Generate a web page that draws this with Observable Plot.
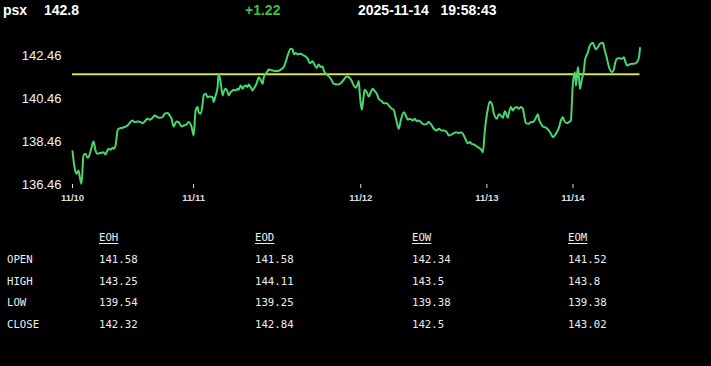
<!DOCTYPE html>
<html><head><meta charset="utf-8">
<script src="https://cdn.jsdelivr.net/npm/d3@7"></script>
<script src="https://cdn.jsdelivr.net/npm/@observablehq/plot@0.6"></script>
<style>
html,body{margin:0;padding:0;background:#000;width:711px;height:366px;overflow:hidden;}
body{position:relative;font-family:"Liberation Sans",Arial,sans-serif;color:#fff;}
.hd{position:absolute;top:3px;font-weight:bold;font-size:14px;line-height:14px;white-space:pre;color:#fff;}
#chart{position:absolute;left:0;top:30px;}
#tbl{position:absolute;left:0;top:227px;display:grid;grid-template-columns:99px 156px 157px 156px 143px;grid-auto-rows:21.75px;align-items:center;font-family:"DejaVu Sans Mono",monospace;font-size:10.7px;color:#eee;}
#tbl div{white-space:pre;line-height:21.75px;}
#tbl .rl{padding-left:7px;}
#tbl .ch{text-decoration:underline;text-underline-offset:2px;}
</style>
</head><body>
<div id="hdr"></div>
<div id="chart"></div>
<div id="tbl"></div>
<script>
const symbol = "psx";
const lastPrice = "142.8";
const change = "+1.22";
const dateStr = "2025-11-14";
const timeStr = "19:58:43";
const prevClose = 141.58;

// sample index (sequential intraday samples) and price
const sampleIdx = [0,2,4,6,7,9,11,13,15,16,19,21,23,25,28,31,33,35,36,38,40,41,43,45,46,50,52,55,57,60,62,66,68,70,73,75,77,80,82,85,87,90,92,95,97,99,101,104,106,109,111,114,116,119,121,
123,125,126,128,130,131,133,135,137,140,141,143,145,146,148,150,151,153,155,156,158,160,161,163,165,166,168,170,171,173,175,176,178,180,181,183,185,186,188,190,191,193,195,196,200,203,205,208,211,213,215,218,220,221,223,225,228,231,233,235,237,240,241,244,246,248,250,251,
255,258,261,265,268,271,274,276,279,281,283,285,286,287,289,291,292,294,296,298,300,301,304,306,309,311,314,316,319,321,322,324,326,328,331,333,335,337,340,342,344,346,349,351,354,356,359,361,364,366,369,371,374,376,379,
381,383,386,388,390,392,395,397,399,401,404,406,409,410,412,415,417,419,421,424,426,428,430,432,435,436,438,440,441,444,446,448,450,451,453,456,458,460,462,465,466,468,470,473,476,478,480,483,486,488,490,491,494,496,498,
499,500,502,503,505,506,507,509,511,512,515,517,520,521,523,525,527,530,531,534,536,539,541,542,544,546,549,551,552,554,556,559,561,564,566,567];
const prices = [138.01,137.27,136.96,137.11,136.88,136.49,137.81,137.89,137.70,137.73,138.17,138.46,138.04,137.89,137.92,137.96,137.86,138.05,138.12,138.07,138.17,138.12,138.27,138.97,139.05,139.10,139.13,139.20,139.31,139.44,139.36,139.39,139.36,139.31,139.44,139.52,139.47,139.56,139.67,139.59,139.56,139.59,139.75,139.78,139.67,139.52,139.16,139.39,139.36,139.16,139.20,139.25,139.36,139.13,138.74,
139.90,140.06,139.82,139.75,140.21,140.60,140.68,140.52,140.55,140.52,140.29,140.60,140.99,141.61,141.22,140.60,140.75,140.91,140.75,140.60,140.75,140.83,140.86,140.83,140.91,140.86,141.06,140.91,140.99,141.06,140.99,141.11,140.99,140.83,140.91,141.06,141.30,141.45,141.33,141.14,141.42,141.61,141.73,141.80,141.76,141.73,141.73,141.80,141.92,142.15,142.46,142.77,142.73,142.51,142.57,142.51,142.54,142.46,142.41,142.31,142.10,142.19,142.10,141.89,142.04,141.92,141.95,141.76,
141.53,141.38,141.14,141.11,141.17,141.33,141.48,141.45,141.27,141.06,140.96,141.14,141.27,140.68,139.93,140.60,140.86,140.75,140.55,140.75,140.91,140.86,140.68,140.45,140.33,140.24,140.24,140.13,139.98,139.93,139.75,139.36,139.05,139.44,139.82,139.67,139.47,139.52,139.44,139.52,139.40,139.44,139.31,139.25,139.28,139.36,139.20,139.05,138.97,139.05,138.97,138.97,138.89,138.74,138.79,
138.85,138.89,138.85,138.89,138.82,138.63,138.38,138.43,138.35,138.32,138.23,138.17,138.04,137.96,138.97,139.98,140.32,140.21,139.75,139.52,139.72,139.67,139.56,139.87,139.56,139.78,140.06,139.90,139.98,140.06,139.98,140.06,139.98,139.75,139.31,139.28,139.36,139.36,139.47,139.72,139.52,139.28,139.16,139.10,138.97,138.82,138.66,138.82,139.10,139.44,139.59,139.44,139.31,139.36,139.44,
140.29,141.22,141.68,141.06,141.92,141.45,140.91,141.38,141.76,142.23,142.61,142.93,143.05,142.93,142.74,142.85,143.00,143.05,142.85,142.31,141.92,141.69,141.84,142.07,142.31,142.33,142.31,142.38,142.23,141.99,142.03,142.07,142.07,142.15,142.38,142.80];

const dayStarts = [0, 121, 288, 414, 500];
const dayLabels = ["11/10", "11/11", "11/12", "11/13", "11/14"];
const yTicks = [136.46, 138.46, 140.46, 142.46];
const yDomain = [136.46, 143.06];
const xDomain = [0, 567];

const periods = ["EOH", "EOD", "EOW", "EOM"];
const fields = ["OPEN", "HIGH", "LOW", "CLOSE"];
const eoh = ["141.58", "143.25", "139.54", "142.32"];
const eod = ["141.58", "144.11", "139.25", "142.84"];
const eow = ["142.34", "143.5", "139.38", "142.5"];
const eom = ["141.52", "143.8", "139.38", "143.02"];

// header
const hdr = document.getElementById("hdr");
[[symbol, 3, "#fff"], [lastPrice, 44, "#fff"], [change, 245, "#3fbf3f"], [dateStr + "   " + timeStr, 358, "#fff"]].forEach(([t, x, c]) => {
  const s = document.createElement("span");
  s.className = "hd"; s.textContent = t; s.style.left = x + "px"; s.style.color = c;
  hdr.appendChild(s);
});

const data = sampleIdx.map((i, k) => ({i, p: prices[k]}));

const chart = Plot.plot({
  width: 711, height: 180,
  marginLeft: 72, marginRight: 71.5, marginTop: 12, marginBottom: 26,
  style: {background: "#000", color: "#fff", fontFamily: "'Liberation Sans', Arial, sans-serif", overflow: "visible"},
  x: {domain: xDomain, label: null},
  y: {domain: yDomain, label: null},
  marks: [
    Plot.axisY({ticks: yTicks, tickSize: 0, tickPadding: 11, fontSize: 13, tickFormat: d => d.toFixed(2), label: null, fill: "#f2f2f2"}),
    Plot.axisX({ticks: dayStarts, tickSize: 4, tickPadding: 6, fontSize: 9.5, fontWeight: "bold", tickFormat: d => dayLabels[dayStarts.indexOf(d)], label: null, fill: "#ddd", stroke: "#ddd"}),
    Plot.ruleY([prevClose], {stroke: "#d4e25a", strokeWidth: 2}),
    Plot.line(data, {x: "i", y: "p", stroke: "#48d670", strokeWidth: 2, curve: "monotone-x", strokeLinejoin: "round"})
  ]
});
document.getElementById("chart").appendChild(chart);

// table
const tbl = document.getElementById("tbl");
const cols = [eoh, eod, eow, eom];
const add = (t, cls) => { const d = document.createElement("div"); d.textContent = t; if (cls) d.className = cls; tbl.appendChild(d); };
add("", "rl"); periods.forEach(p => add(p, "ch"));
fields.forEach((f, r) => { add(f, "rl"); cols.forEach(c => add(c[r])); });
</script>
</body></html>
